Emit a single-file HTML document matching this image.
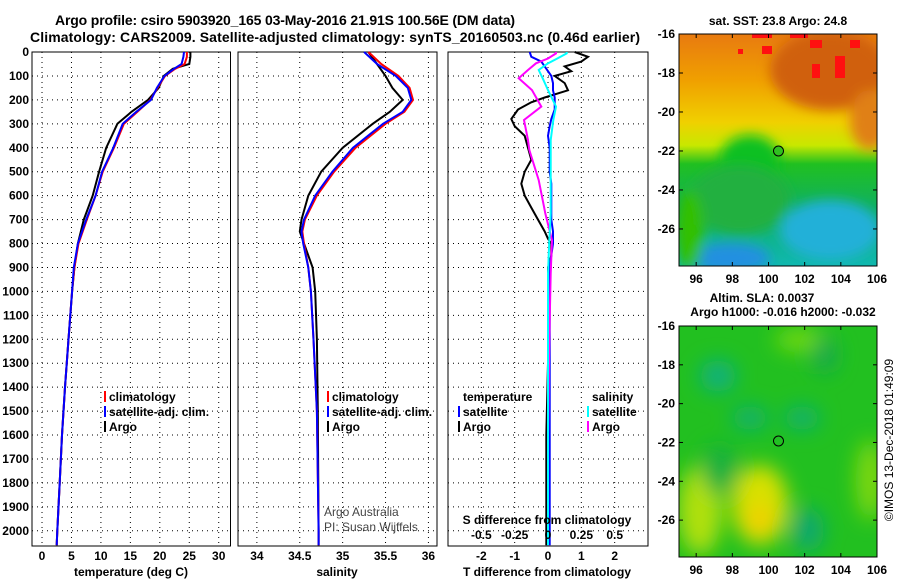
<!DOCTYPE html>
<html><head><meta charset="utf-8"><style>
body{margin:0;background:#fff;}
svg{display:block;font-family:"Liberation Sans",Arial,sans-serif;}
.t{font-weight:bold;font-size:14px;fill:#000}
.tk{font-weight:bold;font-size:12px;fill:#000}
.lg{font-weight:bold;font-size:12px;fill:#000}
.grid{stroke:#000;stroke-width:1;stroke-dasharray:1,4}
</style></head><body>
<svg id="chart" width="900" height="580" viewBox="0 0 900 580">
<defs>
<filter id="blur6"><feGaussianBlur stdDeviation="6"/></filter>
<filter id="blur10"><feGaussianBlur stdDeviation="10"/></filter>
<clipPath id="m1c"><rect x="679" y="34" width="198" height="232"/></clipPath>
<clipPath id="m2c"><rect x="679" y="326" width="198" height="231"/></clipPath>
<linearGradient id="sstg" x1="0" y1="0" x2="0" y2="1">
<stop offset="0" stop-color="#e87a10"/><stop offset="0.2" stop-color="#f0a000"/><stop offset="0.38" stop-color="#f0d000"/><stop offset="0.48" stop-color="#c8e800"/><stop offset="0.56" stop-color="#20c020"/><stop offset="0.75" stop-color="#10b060"/><stop offset="1" stop-color="#10b8b0"/>
</linearGradient>
</defs>
<text class="t" x="285" y="25" text-anchor="middle" textLength="460">Argo profile: csiro 5903920_165 03-May-2016 21.91S 100.56E (DM data)</text>
<text class="t" x="335" y="42" text-anchor="middle" textLength="610">Climatology: CARS2009. Satellite-adjusted climatology: synTS_20160503.nc (0.46d earlier)</text>
<g id="p1"></g>
<g id="p2"></g>
<g id="p3"></g>

<g>
<text class="tk" x="778" y="25" text-anchor="middle">sat. SST: 23.8 Argo: 24.8</text>
<g clip-path="url(#m1c)">
<rect x="679" y="34" width="198" height="232" fill="url(#sstg)"/>
<g filter="url(#blur6)">
<ellipse cx="830" cy="70" rx="60" ry="40" fill="#d06010"/>
<ellipse cx="870" cy="120" rx="20" ry="30" fill="#e08018"/>
<ellipse cx="750" cy="160" rx="30" ry="25" fill="#10c020"/>
<ellipse cx="740" cy="200" rx="50" ry="35" fill="#20b040"/>
<ellipse cx="830" cy="230" rx="50" ry="30" fill="#20b0d8"/>
<ellipse cx="730" cy="258" rx="40" ry="15" fill="#2090e0"/>
<ellipse cx="690" cy="230" rx="14" ry="40" fill="#30c000"/>
</g>
<rect x="752" y="34" width="20" height="4" fill="#ff1010"/><rect x="762" y="46" width="10" height="8" fill="#ff1010"/>
<rect x="790" y="34" width="18" height="4" fill="#ff1010"/><rect x="810" y="40" width="12" height="8" fill="#ff1010"/>
<rect x="812" y="64" width="8" height="14" fill="#ff1010"/><rect x="835" y="56" width="10" height="22" fill="#ff1010"/>
<rect x="850" y="40" width="10" height="8" fill="#ff1010"/><rect x="738" y="49" width="5" height="5" fill="#ff1010"/>
</g>
<rect x="679" y="34" width="198" height="232" fill="none" stroke="#000"/>
<circle cx="778.5" cy="151" r="5" fill="#30c020" stroke="#000"/>
<g id="m1ax"></g>
</g>

<g>
<text class="tk" x="762" y="302" text-anchor="middle">Altim. SLA: 0.0037</text>
<text class="tk" x="783" y="316" text-anchor="middle">Argo h1000: -0.016 h2000: -0.032</text>
<g clip-path="url(#m2c)">
<rect x="679" y="326" width="198" height="231" fill="#22c020"/>
<g filter="url(#blur10)">
<ellipse cx="760" cy="505" rx="28" ry="40" fill="#d8e000"/>
<ellipse cx="700" cy="510" rx="22" ry="45" fill="#b0e010"/>
<ellipse cx="760" cy="520" rx="15" ry="15" fill="#f0d000"/>
<ellipse cx="870" cy="480" rx="14" ry="40" fill="#80d810"/>
<ellipse cx="800" cy="340" rx="25" ry="12" fill="#70d810"/>
<ellipse cx="718" cy="376" rx="18" ry="16" fill="#10b080"/>
<ellipse cx="750" cy="418" rx="18" ry="12" fill="#10b070"/>
<ellipse cx="802" cy="418" rx="18" ry="12" fill="#10b070"/>
<ellipse cx="808" cy="530" rx="16" ry="22" fill="#10a870"/>
<ellipse cx="825" cy="355" rx="12" ry="18" fill="#18a850"/>
<ellipse cx="720" cy="470" rx="18" ry="25" fill="#18b040"/>
</g>
</g>
<rect x="679" y="326" width="198" height="231" fill="none" stroke="#000"/>
<circle cx="778.5" cy="441" r="5" fill="none" stroke="#000"/>
<g id="m2ax"></g>
<text x="893" y="440" font-size="12" text-anchor="middle" transform="rotate(-90 893 440)">©IMOS 13-Dec-2018 01:49:09</text>
</g>
</svg>
<script>
// ---- data ----
const depthTicks=[0,100,200,300,400,500,600,700,800,900,1000,1100,1200,1300,1400,1500,1600,1700,1800,1900,2000];
const tempTicks=[0,5,10,15,20,25,30];
const salTicks=[34,34.5,35,35.5,36];
const dTTicks=[-2,-1,0,1,2];
const dSTicks=[-0.5,-0.25,0,0.25,0.5];
const dSLabels=["-0.5","-0.25","0","0.25","0.5"];
const lonTicks=[96,98,100,102,104,106];
const latTicks=[-16,-18,-20,-22,-24,-26];

const tDepth=[0,20,50,70,100,150,200,250,300,400,500,600,700,800,900,1000,1200,1400,1600,1800,2000,2060];
const tClim=[24.6,24.6,24.2,22.6,20.9,19.6,18.4,16.2,13.9,12.2,10.3,9.1,7.6,6.2,5.5,5.1,4.5,3.9,3.4,3.0,2.6,2.5];
const tSat =[24.1,24.0,23.7,22.4,20.8,19.5,18.5,16.0,13.7,12.1,10.2,9.1,7.5,6.1,5.4,5.1,4.5,3.9,3.4,3.0,2.6,2.5];
const tArgo=[25.2,25.2,25.0,22.2,20.7,19.8,18.0,15.2,12.8,10.9,9.7,8.6,7.1,6.1,5.5,5.1,4.5,3.9,3.4,3.0,2.6,2.5];

const sDepth=[0,50,100,150,200,250,300,400,500,600,700,750,800,900,1000,1200,1500,2000,2060];
const sClim=[35.3,35.45,35.65,35.78,35.82,35.72,35.5,35.15,34.9,34.7,34.56,34.53,34.55,34.6,34.63,34.66,34.7,34.72,34.72];
const sSat =[35.25,35.4,35.62,35.76,35.8,35.7,35.47,35.12,34.88,34.68,34.55,34.52,34.54,34.6,34.63,34.66,34.7,34.72,34.72];
const sArgo=[35.3,35.4,35.5,35.58,35.7,35.55,35.35,35.0,34.75,34.6,34.52,34.5,34.55,34.65,34.68,34.7,34.71,34.72,34.72];

const dDepthT=[0,20,40,60,80,100,130,160,190,210,240,280,310,350,400,450,500,550,600,650,700,750,780,800,850,900,1000,1300,1600,2060];
const dTArgo=[0.8,1.2,1.0,0.5,0.7,0.2,0.5,0.6,-0.1,-0.5,-0.9,-1.1,-1.0,-0.7,-0.6,-0.5,-0.7,-0.8,-0.7,-0.5,-0.3,-0.1,0.0,0.1,0.1,0.0,0.0,0.0,-0.05,-0.05];
const dTSat =[-0.55,-0.5,-0.2,-0.1,0.0,0.1,0.15,0.15,0.2,0.2,0.2,0.1,0.05,0.0,0.05,0.05,0.05,0.1,0.1,0.1,0.1,0.15,0.15,0.15,0.1,0.05,0.05,0.05,0.05,0.05];
const dDepthS=[0,6,27,47,75,110,159,228,284,368,409,535,646,674,786,925,1200,1600,2060];
const dSArgo=[0.06,0.06,0.0,-0.09,-0.15,-0.22,-0.12,-0.05,-0.18,-0.15,-0.14,-0.07,-0.03,-0.02,0.03,0.02,0.01,0.0,0.0];
const dSSat =[0.14,0.14,0.07,0.0,-0.07,-0.04,0.0,0.06,0.04,0.02,0.02,0.02,0.02,0.02,0.01,0.0,0.0,0.0,0.0];

// ---- helpers ----
const NS="http://www.w3.org/2000/svg";
function mk(parent,tag,attrs){const e=document.createElementNS(NS,tag);for(const k in attrs)e.setAttribute(k,attrs[k]);parent.appendChild(e);return e;}
const Y0=52,Y1=546,DMAX=(Y1-Y0)/0.2394;
const yScale=d=>Y0+d*(Y1-Y0)/DMAX;
function lin(d0,d1,r0,r1){return v=>r0+(v-d0)*(r1-r0)/(d1-d0);}

function panel(g,x0,x1,xs,ticks,labels,showY){
  for(const t of ticks){const x=xs(t);
    const l=mk(g,'line',{x1:x,x2:x,y1:Y0,y2:Y1,class:'grid'});
    
    
    if(labels){const tx=mk(g,'text',{x:x,y:560,class:'tk','text-anchor':'middle'});tx.textContent=labels(t);
      
      }
  }
  for(const d of depthTicks){const y=yScale(d);
    const l=mk(g,'line',{x1:x0,x2:x1,y1:y,y2:y,class:'grid'});
    
    
    if(showY){const tx=mk(g,'text',{x:x0-3,y:y+4,class:'tk','text-anchor':'end'});tx.textContent=d;
      
      }
  }
  const r=mk(g,'rect',{x:x0,y:Y0,width:x1-x0,height:Y1-Y0,fill:'none',stroke:'#000'});
  
  
}
function series(g,xs,vals,depths,color,name){
  const pts=vals.map((v,i)=>xs(v).toFixed(1)+','+yScale(depths[i]).toFixed(1)).join(' ');
  const p=mk(g,'polyline',{points:pts,fill:'none',stroke:color,'stroke-width':2});
  
  
}
function legend(g,x,y,items){
  items.forEach((it,i)=>{
    const yy=y+i*15;
    if(it[0]){const m=mk(g,'rect',{x:x,y:yy-10,width:2,height:11,fill:it[0]});
      
      }
    const t=mk(g,'text',{x:x+5,y:yy,class:'lg'});t.textContent=it[1];
    
    
  });
}
function text(g,x,y,s,cls,anchor,name,fill){const t=mk(g,'text',{x:x,y:y,class:cls,'text-anchor':anchor||'start'});if(fill)t.setAttribute('fill',fill),t.style.fill=fill;t.textContent=s;
  
  return t;}

// panel 1
const g1=document.getElementById('p1');
const xT=lin(-1.7,32,32,230.5);
panel(g1,32,230.5,xT,tempTicks,t=>t,true);
series(g1,xT,tArgo,tDepth,'#000','temp-argo-line');
series(g1,xT,tClim,tDepth,'#f00','temp-clim-line');
series(g1,xT,tSat,tDepth,'#00f','temp-sat-line');
legend(g1,104,401,[['#f00','climatology'],['#00f','satellite-adj. clim.'],['#000','Argo']]);
text(g1,131,576,'temperature (deg C)','tk','middle','x-axis-title-temperature');

// panel 2
const g2=document.getElementById('p2');
const xS=lin(33.78,36.1,238,437);
panel(g2,238,437,xS,salTicks,t=>t,false);
series(g2,xS,sArgo,sDepth,'#000','sal-argo-line');
series(g2,xS,sClim,sDepth,'#f00','sal-clim-line');
series(g2,xS,sSat,sDepth,'#00f','sal-sat-line');
legend(g2,327,401,[['#f00','climatology'],['#00f','satellite-adj. clim.'],['#000','Argo']]);
text(g2,324,516,'Argo Australia','lg2','start','credit-argo-australia','#444').setAttribute('font-size','12');
text(g2,324,531,'PI: Susan Wijffels','lg2','start','credit-pi','#444').setAttribute('font-size','12');
text(g2,337,576,'salinity','tk','middle','x-axis-title-salinity');

// panel 3
const g3=document.getElementById('p3');
const xdT=lin(-3,3,448,648);
const xdS=lin(-0.75,0.75,448,648);
panel(g3,448,648,xdT,dTTicks,t=>t,false);
series(g3,xdT,dTArgo,dDepthT,'#000','dT-argo-line');
series(g3,xdT,dTSat,dDepthT,'#00f','dT-sat-line');
series(g3,xdS,dSArgo,dDepthS,'#f0f','dS-argo-line');
series(g3,xdS,dSSat,dDepthS,'#0ff','dS-sat-line');
legend(g3,458,401,[[null,'temperature'],['#00f','satellite'],['#000','Argo']]);
legend(g3,587,401,[[null,'salinity'],['#0ff','satellite'],['#f0f','Argo']]);
text(g3,547,524,'S difference from climatology','tk','middle','s-axis-title');
dSTicks.forEach((t,i)=>{text(g3,xdS(t),539,dSLabels[i],'tk','middle','s-tick-label');});
text(g3,547,576,'T difference from climatology','tk','middle','x-axis-title-diff');

// map axes
function mapAxes(id,x0,x1,y0,y1,latBottom){
  const g=document.getElementById(id);
  const lx=lin(95.05,106,x0,x1), ly=lin(-16,latBottom,y0,y1);
  for(const L of lonTicks){const x=lx(L);
    mk(g,'line',{x1:x,x2:x,y1:y1,y2:y1-4,stroke:'#000'});mk(g,'line',{x1:x,x2:x,y1:y0,y2:y0+4,stroke:'#000'});
    text(g,x,y1+17,L,'tk','middle','lon-tick-label');}
  for(const L of latTicks){const y=ly(L);
    mk(g,'line',{x1:x0,x2:x0+4,y1:y,y2:y,stroke:'#000'});mk(g,'line',{x1:x1,x2:x1-4,y1:y,y2:y,stroke:'#000'});
    text(g,x0-4,y+4,L,'tk','end','lat-tick-label');}
}
mapAxes('m1ax',679,877,34,266,-27.9);
mapAxes('m2ax',679,877,326,557,-27.9);
</script>
</body></html>
